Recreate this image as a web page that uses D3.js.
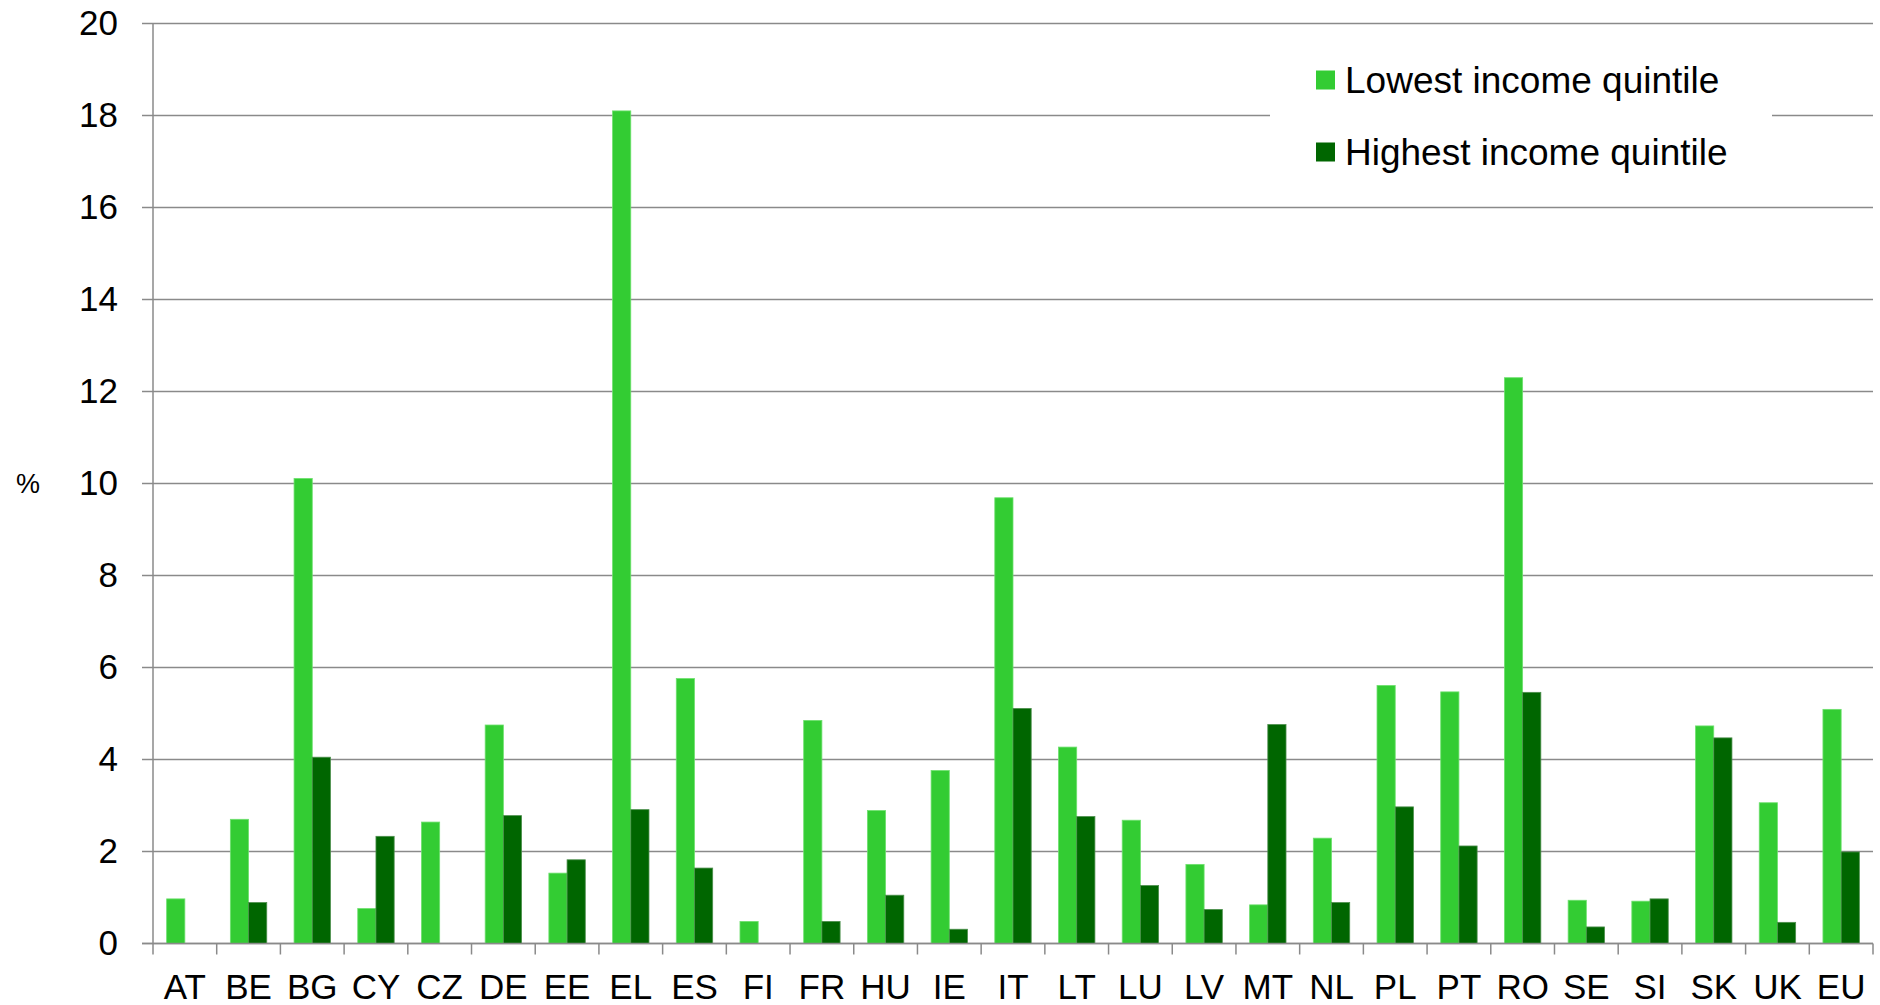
<!DOCTYPE html>
<html>
<head>
<meta charset="utf-8">
<script src="https://cdn.jsdelivr.net/npm/d3@7"></script>
<style>
  html, body { margin: 0; padding: 0; background: #fff; }
  svg { display: block; font-family: "Liberation Sans", Arial, sans-serif; }
</style>
</head>
<body>
<svg id="chart" width="1880" height="1005"></svg>
<script>
// Country codes along the x axis
const categories = ["AT","BE","BG","CY","CZ","DE","EE","EL","ES","FI","FR","HU","IE","IT",
                    "LT","LU","LV","MT","NL","PL","PT","RO","SE","SI","SK","UK","EU"];
// Share (%) for the lowest income quintile
const lowest  = [0.97, 2.70, 10.11, 0.76, 2.64, 4.75, 1.53, 18.10, 5.76, 0.48, 4.85, 2.89, 3.76, 9.69,
                 4.27, 2.68, 1.72, 0.84, 2.29, 5.61, 5.47, 12.30, 0.94, 0.92, 4.73, 3.06, 5.09];
// Share (%) for the highest income quintile (null = no value)
const highest = [null, 0.89, 4.05, 2.33, null, 2.78, 1.82, 2.91, 1.64, null, 0.48, 1.05, 0.31, 5.11,
                 2.76, 1.26, 0.74, 4.76, 0.89, 2.97, 2.12, 5.46, 0.36, 0.97, 4.47, 0.46, 1.99];
const seriesNames = ["Lowest income quintile", "Highest income quintile"];
const seriesColors = ["#33cc33", "#006600"];
const yTicks = [0, 2, 4, 6, 8, 10, 12, 14, 16, 18, 20];

const svg = d3.select("#chart");
const margin = { top: 23.5, right: 7, bottom: 61.5, left: 153 };
const width = 1880 - margin.left - margin.right;
const height = 1005 - margin.top - margin.bottom;
const g = svg.append("g").attr("transform", `translate(${margin.left},${margin.top})`);

const x = d3.scaleBand().domain(categories).range([0, width]).paddingInner(0).paddingOuter(0);
const xs = d3.scaleBand().domain([0, 1]).range([0, x.bandwidth()]).paddingInner(0).paddingOuter(0.75);
const y = d3.scaleLinear().domain([0, 20]).range([height, 0]);

const gridColor = "#8a8a8a";

// Horizontal gridlines (extend left past the axis as tick marks)
g.append("g")
  .selectAll("line")
  .data(yTicks)
  .join("line")
  .attr("x1", -11).attr("x2", width)
  .attr("y1", d => y(d)).attr("y2", d => y(d))
  .attr("stroke", gridColor).attr("stroke-width", 1.5);

// Y axis labels
const yAxis = g.append("g")
  .call(d3.axisLeft(y).tickValues(yTicks).tickSize(11).tickPadding(24));
yAxis.select(".domain").remove();
yAxis.selectAll(".tick line").remove();
yAxis.selectAll("text")
  .attr("font-family", "'Liberation Sans', Arial, sans-serif")
  .attr("font-size", 35).attr("fill", "#000");

// Y axis line
g.append("line")
  .attr("x1", 0).attr("x2", 0).attr("y1", y(20)).attr("y2", y(0))
  .attr("stroke", gridColor).attr("stroke-width", 1.5);

// Unit label
svg.append("text")
  .attr("x", 28).attr("y", margin.top + y(10))
  .attr("dy", "0.35em")
  .attr("text-anchor", "middle")
  .attr("font-size", 27)
  .text("%");

// Bars
const rows = categories.map((c, i) => ({ c, vals: [lowest[i], highest[i]] }));
const groups = g.append("g").selectAll("g")
  .data(rows)
  .join("g")
  .attr("transform", d => `translate(${x(d.c)},0)`);
groups.selectAll("rect")
  .data(d => d.vals.map((v, k) => ({ v, k })).filter(e => e.v != null))
  .join("rect")
  .attr("x", e => xs(e.k))
  .attr("width", xs.bandwidth())
  .attr("y", e => y(e.v))
  .attr("height", e => y(0) - y(e.v))
  .attr("fill", e => seriesColors[e.k])
  .attr("stroke", e => e.k === 0 ? "#6ee06e" : "#4d8f4d")
  .attr("stroke-width", 0.8);

// X axis: labels centred in each band
const xAxis = g.append("g")
  .attr("transform", `translate(0,${height})`)
  .call(d3.axisBottom(x).tickSize(0).tickPadding(0));
xAxis.select(".domain").remove();
xAxis.selectAll("text")
  .attr("dy", null)
  .attr("y", 55)
  .attr("font-family", "'Liberation Sans', Arial, sans-serif")
  .attr("font-size", 35).attr("fill", "#000");

// X axis line and boundary ticks between categories
g.append("line")
  .attr("x1", -11).attr("x2", width).attr("y1", y(0)).attr("y2", y(0))
  .attr("stroke", gridColor).attr("stroke-width", 1.5);
const bounds = categories.map(c => x(c)).concat([x(categories[categories.length - 1]) + x.bandwidth()]);
g.append("g").selectAll("line")
  .data(bounds)
  .join("line")
  .attr("x1", d => d).attr("x2", d => d)
  .attr("y1", y(0)).attr("y2", y(0) + 11)
  .attr("stroke", gridColor).attr("stroke-width", 1.5);

// Legend with white background
const legend = svg.append("g");
legend.append("rect")
  .attr("x", 1270).attr("y", 35).attr("width", 502).attr("height", 160)
  .attr("fill", "#fff");
const items = legend.selectAll("g.item")
  .data(seriesNames)
  .join("g")
  .attr("class", "item")
  .attr("transform", (d, i) => `translate(1316,${80 + i * 72})`);
items.append("rect")
  .attr("x", 0).attr("y", -9.5).attr("width", 19).attr("height", 19)
  .attr("fill", (d, i) => seriesColors[i]);
items.append("text")
  .attr("x", 29).attr("y", 0).attr("dy", "0.35em")
  .attr("font-size", 37)
  .text(d => d);
</script>
</body>
</html>
